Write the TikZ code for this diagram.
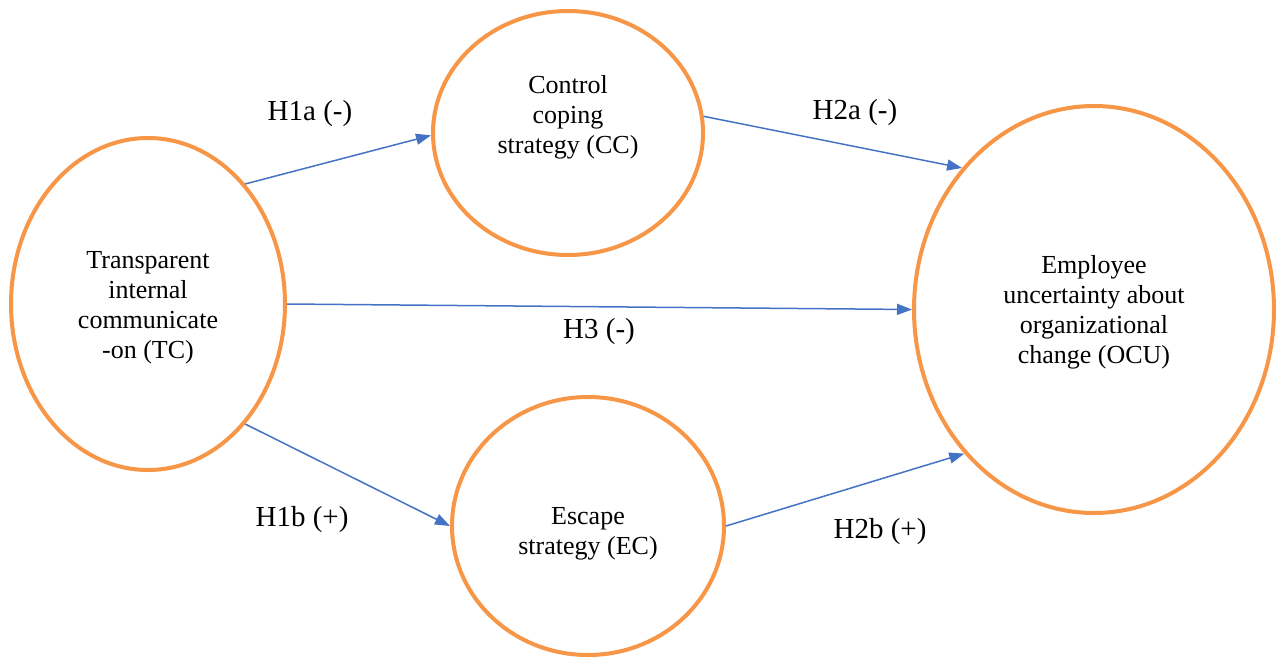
\documentclass[tikz,border=0pt]{standalone}
\usepackage{fontspec}
\setmainfont{Liberation Serif}
\usetikzlibrary{shapes.geometric,arrows.meta}
\definecolor{ovalorange}{HTML}{F79646}
\definecolor{arrowblue}{HTML}{4472C4}
\begin{document}
\begin{tikzpicture}[x=1pt,y=1pt,
  oval/.style={ellipse,draw=ovalorange,line width=4pt,inner sep=0pt,fill=white},
  ovaltext/.style={align=center,inner sep=0pt,font=\fontsize{26}{30}\selectfont},
  hyp/.style={anchor=base,inner sep=0pt,font=\fontsize{29}{34}\selectfont},
  link/.style={draw=arrowblue,line width=1.5pt,-{Triangle[length=15pt,width=11pt]}}]
\useasboundingbox (0,0) rectangle (1277,-659);
% ovals
\node[oval,minimum width=274pt,minimum height=332pt] (TC) at (148,-304) {};
\node[oval,minimum width=270pt,minimum height=244pt] (CC) at (568,-133) {};
\node[oval,minimum width=272pt,minimum height=258pt] (EC) at (588,-526) {};
\node[oval,minimum width=360pt,minimum height=407pt] (OCU) at (1094,-309.5) {};
% oval texts
\node[ovaltext] (TCt) at (148,-308) {Transparent\\internal\\communicate\\-on (TC)};
\node[ovaltext] (CCt) at (568,-117.5) {Control\\coping\\strategy (CC)};
\node[ovaltext] (ECt) at (588,-533.5) {Escape\\strategy (EC)};
\node[ovaltext] (OCUt) at (1094,-312.5) {Employee\\uncertainty about\\organizational\\change (OCU)};
% connectors
\draw[link] (TC.51) -- (CC.181);
\draw[link] (CC.7) -- (OCU.133);
\draw[link] (TC.0) -- (OCU.180);
\draw[link] (TC.-51) -- (EC.180);
\draw[link] (EC.0) -- (OCU.228);
% hypothesis labels
\node[hyp] (H1a) at (310,-120) {H1a (-)};
\node[hyp] (H2a) at (855,-119) {H2a (-)};
\node[hyp] (H3) at (599,-338) {H3 (-)};
\node[hyp] (H1b) at (302,-526) {H1b (+)};
\node[hyp] (H2b) at (880,-538) {H2b (+)};
\end{tikzpicture}
\end{document}
